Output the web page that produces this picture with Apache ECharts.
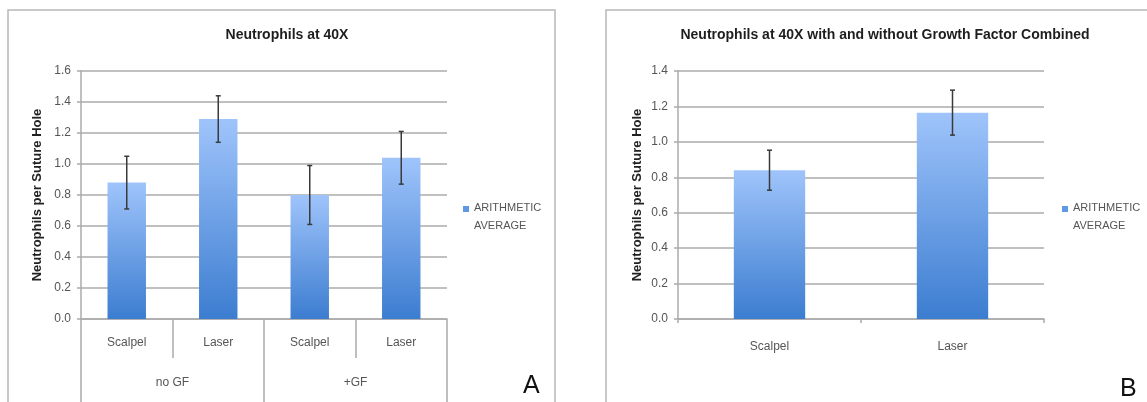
<!DOCTYPE html>
<html>
<head>
<meta charset="utf-8">
<script src="https://cdn.jsdelivr.net/npm/echarts@6/dist/echarts.min.js"></script>
<style>
html,body{margin:0;padding:0;background:#fff;}
#c{width:1147px;height:402px;}
</style>
</head>
<body>
<div id="c"></div>
<script>
// ---- data ----
const catsA = ['Scalpel', 'Laser', 'Scalpel', 'Laser'];
const groupsA = ['no GF', '+GF'];
const meansA = [0.88, 1.29, 0.80, 1.04];
const errA = [0.17, 0.15, 0.19, 0.17];
const ticksA = { min: 0, max: 1.6, interval: 0.2 };

const catsB = ['Scalpel', 'Laser'];
const meansB = [0.84, 1.165];
const errB = [0.113, 0.127];
const ticksB = { min: 0, max: 1.4, interval: 0.2 };

const titleA = 'Neutrophils at 40X';
const titleB = 'Neutrophils at 40X with and without Growth Factor Combined';
const yName = 'Neutrophils per Suture Hole';
const seriesName = 'ARITHMETIC AVERAGE';

// ---- styles ----
const FONT = '"Liberation Sans", Arial, sans-serif';
const gridColor = '#ababab';
const labelColor = '#555';
const barGrad = new echarts.graphic.LinearGradient(0, 0, 0, 1, [
  { offset: 0, color: '#9fc4fb' },
  { offset: 1, color: '#3c7dd0' }
]);
// square icon aligned with the first text line (invisible zero-area tail extends the box downwards)
const legendIcon = 'path://M0,0h6v6h-6zM0,22h6';

function errData(means, errs) {
  return means.map((m, i) => [i, m - errs[i], m + errs[i]]);
}
function errRender(params, api) {
  const top = api.coord([api.value(0), api.value(2)]);
  const bot = api.coord([api.value(0), api.value(1)]);
  const cw = 2.5;
  const st = { stroke: '#3a3a3a', lineWidth: 1.5 };
  return {
    type: 'group',
    children: [
      { type: 'line', shape: { x1: top[0], y1: top[1], x2: bot[0], y2: bot[1] }, style: st },
      { type: 'line', shape: { x1: top[0] - cw, y1: top[1], x2: top[0] + cw, y2: top[1] }, style: st },
      { type: 'line', shape: { x1: bot[0] - cw, y1: bot[1], x2: bot[0] + cw, y2: bot[1] }, style: st }
    ]
  };
}
function yAxisOpt(grid, t, gap) {
  return {
    type: 'value', gridIndex: grid, min: t.min, max: t.max, interval: t.interval,
    name: yName, nameLocation: 'middle', nameGap: gap,
    nameTextStyle: { fontFamily: FONT, fontSize: 13, fontWeight: 'bold', color: '#222' },
    axisLine: { show: true, lineStyle: { color: gridColor, width: 1.5 } },
    axisTick: { show: true, length: 4, lineStyle: { color: gridColor, width: 1.5 } },
    axisLabel: { fontFamily: FONT, fontSize: 12, color: labelColor, margin: 10,
      formatter: v => v.toFixed(1) },
    splitLine: { show: true, lineStyle: { color: gridColor, width: 1.5 } }
  };
}
function legendOpt(left) {
  return {
    left: left, top: 194, itemWidth: 6, itemHeight: 24, icon: legendIcon, itemGap: 4,
    data: [seriesName], formatter: () => 'ARITHMETIC\nAVERAGE',
    itemStyle: { borderWidth: 0, color: '#5f98e4' },
    textStyle: { fontFamily: FONT, fontSize: 11, color: labelColor, lineHeight: 18 }
  };
}

const chart = echarts.init(document.getElementById('c'));
chart.setOption({
  animation: false,
  backgroundColor: '#fff',
  title: [
    { text: titleA, left: 282, top: 23, textAlign: 'center',
      textStyle: { fontFamily: FONT, fontSize: 14, fontWeight: 'bold', color: '#1e1e1e' } },
    { text: titleB, left: 880, top: 23, textAlign: 'center',
      textStyle: { fontFamily: FONT, fontSize: 14, fontWeight: 'bold', color: '#1e1e1e' } }
  ],
  legend: [ legendOpt(458), legendOpt(1057) ],
  grid: [
    { left: 81, right: 700, top: 71, bottom: 83 },
    { left: 678, right: 103, top: 71, bottom: 83 }
  ],
  xAxis: [
    { type: 'category', gridIndex: 0, data: catsA, position: 'bottom',
      axisLine: { show: true, lineStyle: { color: gridColor, width: 1.5 } },
      axisTick: { show: true, length: 39, lineStyle: { color: gridColor, width: 1.5 } },
      axisLabel: { fontFamily: FONT, fontSize: 12, color: labelColor, margin: 18 } },
    { type: 'category', gridIndex: 0, data: groupsA, position: 'bottom',
      axisLine: { show: false },
      axisTick: { show: true, length: 90, lineStyle: { color: gridColor, width: 1.5 } },
      axisLabel: { fontFamily: FONT, fontSize: 12, color: labelColor, margin: 58 } },
    { type: 'category', gridIndex: 1, data: catsB, position: 'bottom',
      axisLine: { show: true, lineStyle: { color: gridColor, width: 1.5 } },
      axisTick: { show: true, length: 4, lineStyle: { color: gridColor, width: 1.5 } },
      axisLabel: { fontFamily: FONT, fontSize: 12, color: labelColor, margin: 22 } }
  ],
  yAxis: [ yAxisOpt(0, ticksA, 37), yAxisOpt(1, ticksB, 34) ],
  series: [
    { name: seriesName, type: 'bar', xAxisIndex: 0, yAxisIndex: 0, data: meansA,
      barWidth: '42%', itemStyle: { color: barGrad } },
    { name: 'errA', type: 'custom', xAxisIndex: 0, yAxisIndex: 0, data: errData(meansA, errA),
      renderItem: errRender, encode: { x: 0, y: [1, 2] }, z: 5 },
    { name: seriesName, type: 'bar', xAxisIndex: 2, yAxisIndex: 1, data: meansB,
      barWidth: '39%', itemStyle: { color: barGrad } },
    { name: 'errB', type: 'custom', xAxisIndex: 2, yAxisIndex: 1, data: errData(meansB, errB),
      renderItem: errRender, encode: { x: 0, y: [1, 2] }, z: 5 }
  ],
  graphic: [
    { type: 'rect', shape: { x: 8, y: 10, width: 547, height: 420 },
      style: { fill: 'none', stroke: '#b8b8b8', lineWidth: 1.5 }, silent: true },
    { type: 'rect', shape: { x: 606, y: 10, width: 560, height: 420 },
      style: { fill: 'none', stroke: '#b8b8b8', lineWidth: 1.5 }, silent: true },
    { type: 'text', left: 523, top: 374,
      style: { text: 'A', fontFamily: FONT, fontSize: 25, fill: '#111' } },
    { type: 'text', left: 1120, top: 377,
      style: { text: 'B', fontFamily: FONT, fontSize: 25, fill: '#111' } }
  ]
});
</script>
</body>
</html>
